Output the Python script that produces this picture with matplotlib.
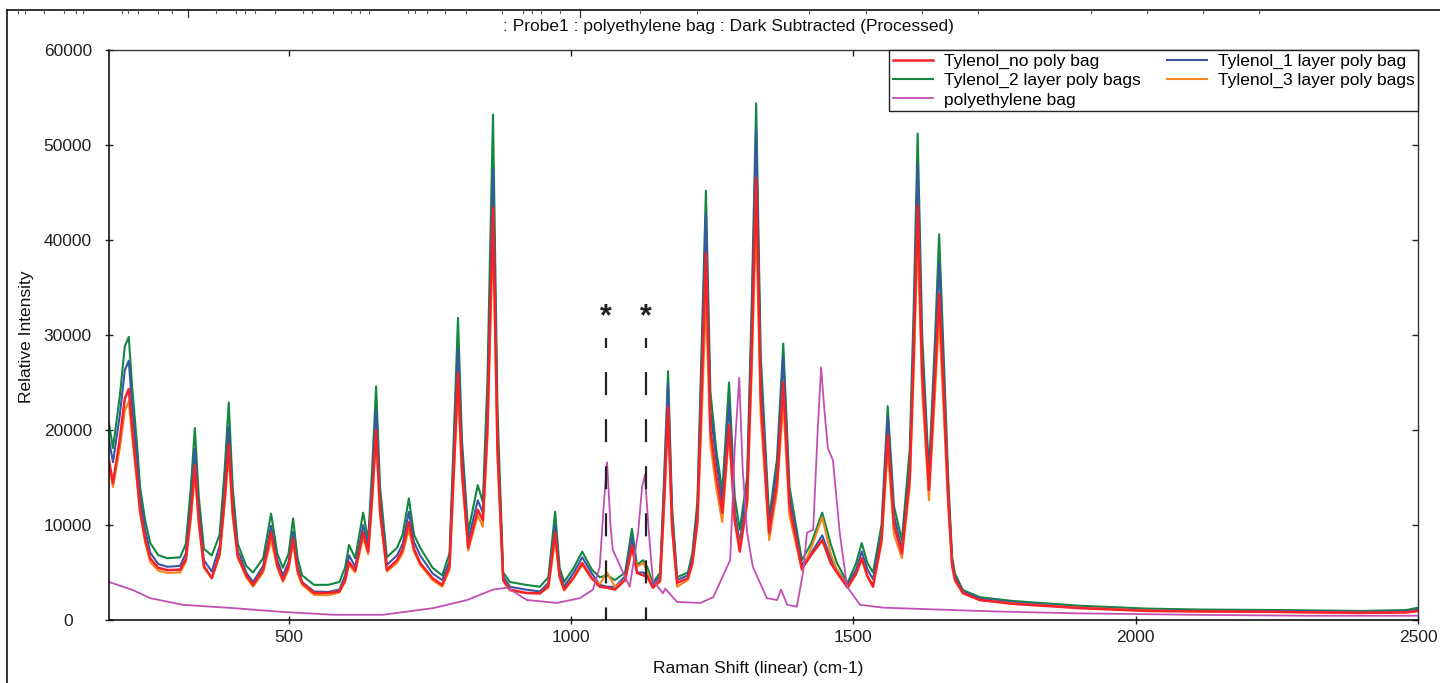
import matplotlib
matplotlib.use('Agg')
import matplotlib.pyplot as plt
from matplotlib.lines import Line2D, TICKLEFT, TICKDOWN

plt.rcParams['font.family'] = ['Liberation Sans', 'DejaVu Sans']
plt.rcParams['lines.scale_dashes'] = False

# ---------------- data ----------------
x_tyl = [182, 189, 201, 210, 217, 223, 232, 237, 246, 255, 269, 285, 308, 318, 327, 334, 341, 350,
         364, 378, 387, 394, 401, 410, 414, 425, 437, 455, 469, 480, 490, 500, 508, 516, 524, 545,
         570, 590, 600, 607, 618, 632, 641, 648, 655, 662, 674, 692, 702, 713, 722, 733, 755, 772,
         785, 793, 800, 807, 818, 835, 844, 852, 862, 870, 880, 892, 920, 945, 960, 972, 980, 988,
         1005, 1020, 1037, 1051, 1064, 1078, 1096, 1108, 1117, 1128, 1135, 1145, 1158, 1165, 1172,
         1179, 1188, 1207, 1215, 1224, 1232, 1239, 1247, 1257, 1268, 1280, 1290, 1299, 1312, 1320,
         1328, 1336, 1351, 1365, 1376, 1387, 1409, 1425, 1445, 1460, 1471, 1490, 1505, 1515, 1525,
         1535, 1550, 1561, 1572, 1586, 1600, 1607, 1614, 1622, 1634, 1645, 1652, 1660, 1668, 1675,
         1680, 1694, 1724, 1783, 1901, 2020, 2114, 2250, 2400, 2480, 2500]

tyl_2_layer = [20700, 18100, 23500, 28800, 29800, 24500, 18200, 14000, 10500, 8100, 6840, 6500, 6600, 8000, 14000, 20200, 13000, 7500,
               6800, 9000, 16000, 22900, 14000, 8000, 7400, 5700, 5000, 6500, 11200, 7000, 5500, 7000, 10700, 6500, 4700, 3700,
               3700, 4000, 5500, 7900, 6500, 11300, 8400, 16000, 24600, 14000, 6600, 7600, 9000, 12800, 9000, 7600, 5500, 4700,
               7000, 20000, 31800, 19000, 9300, 14200, 12400, 25000, 53200, 22000, 5000, 4000, 3700, 3500, 4500, 11400, 5500, 4000,
               5500, 7200, 5300, 4500, 4700, 4200, 5000, 9600, 5800, 6300, 5600, 3900, 5000, 15000, 26200,
               12000, 4500, 5000, 7000, 12500, 30000, 45200, 24000, 18100, 13500, 25000, 13000, 9500, 15000, 33000,
               54400, 28000, 10700, 17000, 29100, 14000, 6300, 8000, 11300, 8000, 6000, 3900, 6000, 8100, 6000,
               5000, 10000, 22500, 12000, 8400, 18000, 33000, 51200, 30000, 15500, 30000, 40600, 28000, 15000, 6600,
               4900, 3150, 2400, 2000, 1500, 1200, 1100, 1050, 950, 1050, 1300]

tyl_1_layer = [19000, 16600, 21500, 26300, 27300, 22500, 16500, 12900, 9500, 7100, 5900, 5600, 5700, 7000, 12300, 18000, 11600, 6300,
               5100, 7800, 14000, 20300, 12300, 7200, 6800, 5000, 4000, 5700, 9900, 6300, 4700, 6100, 9300, 5600, 4000, 3000,
               2950, 3200, 4700, 6800, 5600, 10000, 7700, 14500, 22100, 12500, 5800, 6800, 8000, 11400, 8200, 6800, 4900, 4200,
               6200, 18000, 28600, 17500, 8400, 12600, 11300, 22000, 47400, 19500, 4600, 3500, 3200, 3000, 3900, 10000, 5000, 3500,
               5000, 6600, 4900, 3700, 3500, 3500, 4600, 8700, 5000, 5000, 4800, 3700, 4600, 14000, 24900,
               11000, 4200, 4700, 6500, 11500, 28000, 42800, 22000, 17000, 12300, 22800, 11500, 8100, 14000, 31000,
               51600, 26000, 9800, 16000, 27700, 13000, 5800, 7000, 8900, 6500, 5300, 3700, 5300, 7200, 5300,
               4300, 9000, 21400, 11000, 7400, 16000, 30000, 48000, 28000, 14700, 28000, 37600, 26000, 14000, 6200,
               4600, 3000, 2250, 1850, 1350, 1050, 950, 950, 850, 900, 1100]

tyl_no_bag = [16800, 14400, 19000, 23300, 24300, 20300, 14800, 11600, 8500, 6500, 5500, 5250, 5300, 6400, 11200, 16300, 10500, 5700,
              4400, 7000, 13000, 18500, 11500, 6700, 6200, 4700, 3700, 5300, 9200, 5800, 4200, 5700, 8600, 5200, 3900, 2850,
              2850, 3000, 4200, 6100, 5200, 9200, 7200, 13000, 20000, 11500, 5300, 6300, 7400, 10300, 7500, 6000, 4400, 3700,
              5600, 16500, 26000, 16000, 7600, 11600, 10500, 20000, 43400, 18000, 4200, 3200, 2850, 2800, 3600, 9200, 4600, 3200,
              4500, 6000, 4400, 3500, 3400, 3200, 4200, 7800, 4950, 4700, 4600, 3400, 4200, 12500, 22400,
              10000, 3900, 4400, 6000, 10500, 25000, 38600, 20000, 15300, 11300, 20500, 10500, 7200, 12500, 28000,
              46500, 23500, 9200, 14500, 25000, 12000, 5400, 6800, 8400, 6000, 5000, 3400, 4900, 6500, 4600,
              3500, 8500, 19500, 10000, 7000, 15000, 28000, 43600, 26000, 13700, 26000, 34300, 24000, 13000, 5800,
              4300, 2850, 2100, 1700, 1250, 950, 900, 850, 750, 800, 950]

tyl_3_layer = [16100, 14000, 18000, 22000, 23000, 19300, 14200, 11200, 8200, 6100, 5200, 4950, 5000, 6100, 10600, 15500, 10000, 5500,
               4400, 6800, 12200, 17400, 10800, 6500, 6000, 4500, 3500, 5000, 8400, 5500, 4000, 5300, 8100, 4900, 3700, 2650,
               2600, 2900, 4000, 5800, 5000, 8700, 6900, 12500, 19200, 11000, 5100, 6000, 7000, 9500, 7200, 5800, 4200, 3500,
               5300, 15500, 24500, 15000, 7300, 11000, 9800, 19000, 40700, 17000, 4100, 3100, 2850, 2800, 3400, 8400, 4400, 3100,
               4400, 5800, 4300, 3800, 5000, 3500, 4200, 7400, 5600, 6000, 5100, 3400, 4000, 12000, 21400,
               9500, 3500, 4200, 5800, 10000, 22000, 33700, 18500, 14000, 10300, 19700, 10500, 7700, 12000, 26000,
               42400, 21500, 8400, 13500, 22800, 11000, 5200, 7500, 10800, 7000, 5300, 3500, 4800, 6400, 4600,
               3700, 8000, 18000, 9000, 6500, 14000, 26000, 40300, 24000, 12600, 24000, 31900, 22000, 12000, 5600,
               4100, 2800, 2100, 1750, 1300, 1000, 900, 850, 750, 800, 950]

x_pe = [182, 224, 255, 313, 402, 490, 579, 667, 756, 816, 862, 887, 922, 975, 1016, 1039, 1051, 1058, 1064,
        1070, 1074, 1090, 1104, 1119, 1126, 1131, 1137, 1145, 1163, 1167, 1188, 1229, 1252, 1282, 1290,
        1298, 1304, 1312, 1322, 1347, 1365, 1372, 1383, 1400, 1411, 1418, 1429, 1437, 1443, 1449, 1455,
        1464, 1476, 1489, 1512, 1553, 1650, 1750, 1900, 2100, 2300, 2500]
polyethylene = [4000, 3160, 2300, 1600, 1250, 850, 550, 550, 1250, 2100, 3200, 3400, 2100, 1800, 2300, 3200, 5600, 12000, 16600,
                10000, 7400, 5300, 3500, 9200, 14000, 15300, 10000, 4200, 2800, 3300, 1900, 1800, 2400, 6300, 18000,
                25500, 16000, 9200, 5600, 2300, 2100, 3200, 1600, 1400, 5000, 9200, 9500, 20000, 26600, 22000, 18100,
                16800, 9200, 3500, 1600, 1300, 1100, 900, 700, 550, 450, 450]

labels = ['Tylenol_no poly bag', 'Tylenol_1 layer poly bag', 'Tylenol_2 layer poly bags',
          'Tylenol_3 layer poly bags', 'polyethylene bag']
pe_band_marks = [1062, 1133]
x_ticks = [500, 1000, 1500, 2000, 2500]
y_ticks = [0, 10000, 20000, 30000, 40000, 50000, 60000]

# ---------------- figure ----------------
W, H = 1440, 683
FS = 12.5
fig = plt.figure(figsize=(W / 100, H / 100), dpi=100)
ax = fig.add_axes([109 / W, 1 - 620 / H, (1418 - 109) / W, (620 - 50) / H])

c_red, c_blue, c_green, c_orange, c_purple = '#f5222a', '#3a55a6', '#13873f', '#f7861f', '#c24fb2'
lw = 1.5
l_green, = ax.plot(x_tyl, tyl_2_layer, color=c_green, lw=lw, label=labels[2])
l_blue, = ax.plot(x_tyl, tyl_1_layer, color=c_blue, lw=lw, label=labels[1])
l_orange, = ax.plot(x_tyl, tyl_3_layer, color=c_orange, lw=lw, label=labels[3])
l_red, = ax.plot(x_tyl, tyl_no_bag, color=c_red, lw=lw + 0.3, label=labels[0])
l_purple, = ax.plot(x_pe, polyethylene, color=c_purple, lw=1.3, label=labels[4])

# dashed marker lines + asterisks
for xm in pe_band_marks:
    ax.plot([xm, xm], [29700, 0], color='#222222', lw=1.6,
            linestyle=(9.4, (16.6, 17.3)), clip_on=False)
    ax.text(xm, 31900, '*', ha='center', va='center', fontsize=22, fontweight='bold',
            color='#222222')

ax.set_xlim(182, 2500)
ax.set_ylim(0, 60000)
ax.set_xticks(x_ticks)
ax.set_yticks(y_ticks)
ax.set_xticklabels([str(v) for v in x_ticks])
ax.set_yticklabels([str(v) for v in y_ticks])

ax.tick_params(axis='both', direction='inout', length=6, width=1.0, labelsize=FS,
               top=True, right=True, colors='#222222')
ax.tick_params(axis='y', pad=26.6)
ax.tick_params(axis='x', pad=4.5)
for lab in ax.get_yticklabels():
    lab.set_horizontalalignment('center')
for t in ax.yaxis.get_major_ticks():
    t.tick2line.set_marker(TICKLEFT)
    t.tick2line.set_markersize(4)
for t in ax.xaxis.get_major_ticks():
    t.tick2line.set_marker(TICKDOWN)
    t.tick2line.set_markersize(4)

for s in ['left', 'bottom']:
    ax.spines[s].set_color('#111111')
    ax.spines[s].set_linewidth(1.2)
for s in ['top', 'right']:
    ax.spines[s].set_color('#333333')
    ax.spines[s].set_linewidth(1.0)

leg = ax.legend(handles=[l_red, l_green, l_purple, l_blue, l_orange], ncol=2,
                loc='upper right', bbox_to_anchor=(1, 1), borderaxespad=0,
                fontsize=FS, handlelength=2.35, handletextpad=0.6, columnspacing=1.5,
                labelspacing=0.24, borderpad=0.2, fancybox=False, framealpha=1)
leg.get_frame().set_edgecolor('#222222')
leg.get_frame().set_linewidth(1.0)

fig.text(728 / W, 1 - 27 / H, ': Probe1 : polyethylene bag : Dark Subtracted (Processed)',
         ha='center', va='center', fontsize=FS, color='#111111')
fig.text(27 / W, 1 - 337 / H, 'Relative Intensity', rotation=90, ha='center', va='center',
         fontsize=FS, color='#111111')
fig.text(758 / W, 1 - 669 / H, 'Raman Shift (linear) (cm-1)', ha='center', va='center',
         fontsize=FS, color='#111111')

# outer frame (cropped window border)
fig.add_artist(Line2D([7 / W, 1], [1 - 10 / H, 1 - 10 / H], transform=fig.transFigure,
                      color='#111111', lw=1.2))
fig.add_artist(Line2D([7 / W, 7 / W], [0, 1 - 10 / H], transform=fig.transFigure,
                      color='#111111', lw=1.2))
frame_ticks = [18, 25, 44, 64, 76, 83, 122, 128, 138, 158, 172, 216, 236, 245, 255, 275, 303, 312,
               333, 351, 360, 369, 408, 415, 427, 445, 466, 502, 523, 532, 541, 560, 640, 697,
               809, 866, 922, 978, 1091, 1147, 1203, 1259]
frame_long_ticks = [188, 580]
for px in frame_ticks:
    fig.add_artist(Line2D([px / W, px / W], [1 - 10 / H, 1 - 13 / H], transform=fig.transFigure,
                          color='#555555', lw=0.8))
for px in frame_long_ticks:
    fig.add_artist(Line2D([px / W, px / W], [1 - 10 / H, 1 - 17 / H], transform=fig.transFigure,
                          color='#333333', lw=0.9))

fig.savefig('out.png', dpi=100)
